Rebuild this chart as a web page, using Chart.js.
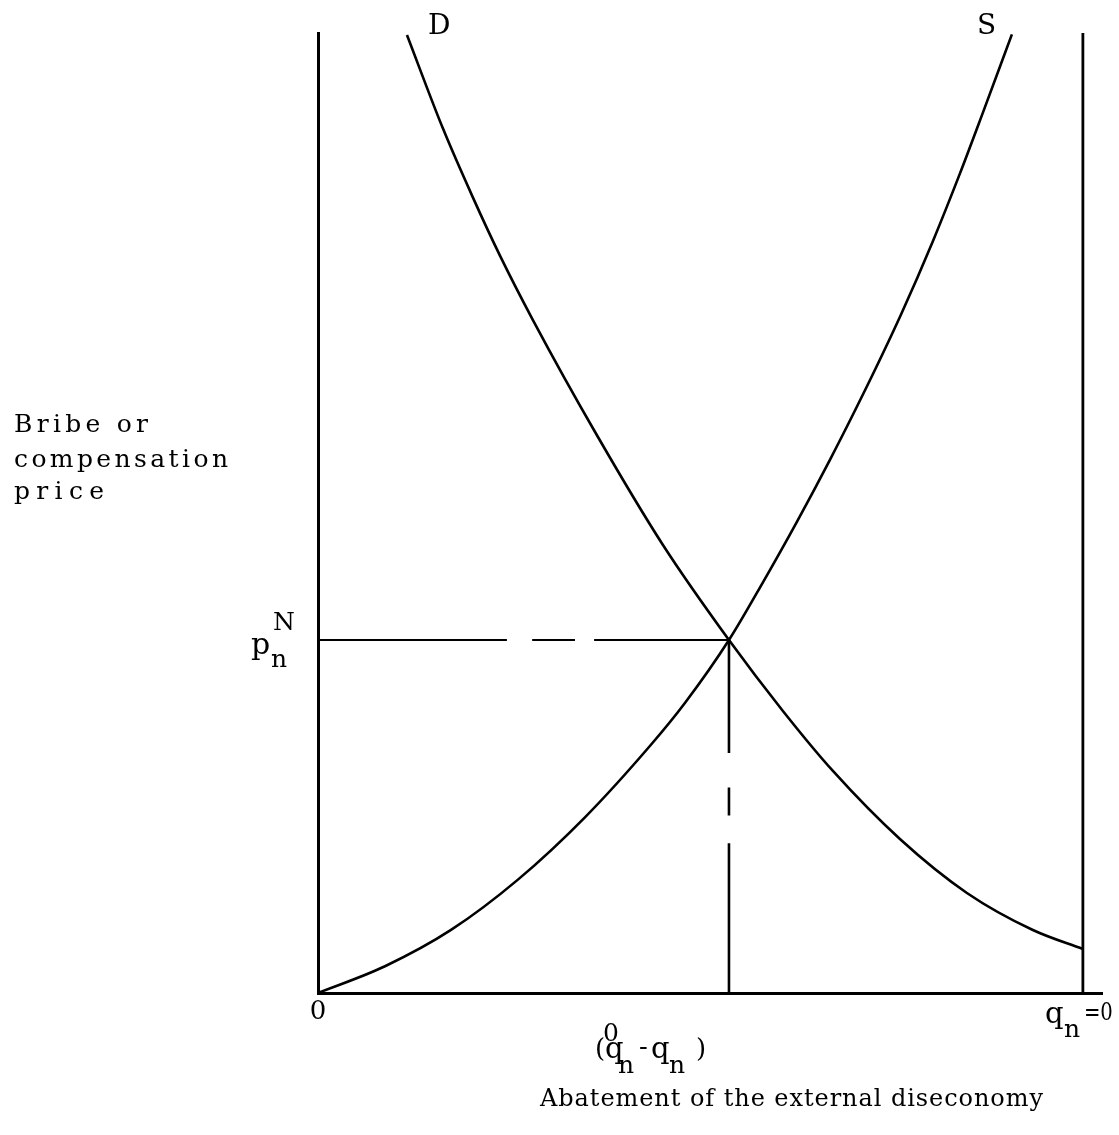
<!DOCTYPE html>
<html><head><meta charset="utf-8">
<script src="https://cdn.jsdelivr.net/npm/chart.js@4.4.0/dist/chart.umd.min.js"></script>
<style>html,body{margin:0;padding:0;background:#fff;}#wrap{width:1119px;height:1135px;}</style>
</head><body><div id="wrap"><canvas id="c" width="1119" height="1135"></canvas></div>
<script>
// ---- data (x: abatement 0..100, y: price 0..100) ----
const demandX = [11.63, 16.34, 20.26, 23.79, 28.10, 36.47, 45.10, 53.73, 60.78, 67.32, 76.08, 84.84, 93.46, 100];
const demandY = [99.79, 90.04, 82.85, 76.81, 70.10, 58.10, 46.67, 36.77, 29.38, 23.13, 16.04, 10.42, 6.56, 4.58];
const supplyX = [0, 8.76, 17.39, 26.14, 34.90, 43.53, 47.97, 53.73, 58.17, 62.61, 66.93, 71.24, 76.21, 80.39, 83.92, 86.93, 90.72];
const supplyY = [0, 2.79, 6.57, 11.81, 18.30, 25.86, 30.21, 36.77, 42.78, 49.08, 55.54, 62.34, 70.66, 78.32, 85.35, 91.71, 99.86];
const eqQuantity = 53.73;
const eqPrice = 36.77;
const priceLineSegments = [[0, 24.7], [28.0, 33.6], [36.1, 53.73]];     // x ranges at y = eqPrice
const quantityLineSegments = [[36.77, 25.0], [21.4, 18.5], [15.6, 0]]; // y ranges at x = eqQuantity
const boundaryX = 100;   // q_n = 0
const xMax = 102.5;
const yMax = 100;
const curveLabels = ['D', 'S'];
const yLabelLines = ['Bribe or', 'compensation', 'price'];
const xTitle = 'Abatement of the external diseconomy';

function toPts(xs, ys) { return xs.map((x, i) => ({x, y: ys[i]})); }
const hPts = [];
priceLineSegments.forEach((s, i) => {
  if (i) hPts.push({x: (priceLineSegments[i-1][1] + s[0]) / 2, y: null});
  hPts.push({x: s[0], y: eqPrice}, {x: s[1], y: eqPrice});
});
const vPts = [];
quantityLineSegments.forEach((s, i) => {
  if (i) vPts.push({x: eqQuantity, y: null});
  vPts.push({x: eqQuantity, y: s[0]}, {x: eqQuantity, y: s[1]});
});

const FONT = '"DejaVu Serif", "Liberation Serif", serif';
function fitText(ctx, text, x, y, target) {
  const natural = ctx.measureText(text).width;
  if (natural >= target) {
    ctx.save(); ctx.translate(x, y); ctx.scale(target / natural, 1);
    ctx.fillText(text, 0, 0); ctx.restore();
    return;
  }
  const chars = [...text];
  const w = chars.map(c => ctx.measureText(c).width);
  const total = w.reduce((a, b) => a + b, 0);
  const extra = (target - total) / (chars.length - 1);
  let cx = x;
  chars.forEach((c, i) => { ctx.fillText(c, cx, y); cx += w[i] + extra; });
}

const textPlugin = {
  id: 'texts',
  afterDraw(chart) {
    const ctx = chart.ctx, xs = chart.scales.x, ys = chart.scales.y;
    ctx.save();
    ctx.fillStyle = '#000';
    ctx.textBaseline = 'alphabetic';
    ctx.textAlign = 'left';
    const x0 = xs.getPixelForValue(0), yb = ys.getPixelForValue(0);
    // curve labels
    ctx.font = '28px ' + FONT;
    ctx.fillText(curveLabels[0], xs.getPixelForValue(demandX[0]) + 21, ys.top + 1);
    ctx.fillText(curveLabels[1], xs.getPixelForValue(supplyX[supplyX.length-1]) - 35, ys.top + 1);
    // y label
    ctx.font = '25px ' + FONT;
    const targets = [134, 214, 90];
    const bases = [432, 467, 499];
    yLabelLines.forEach((t, i) => fitText(ctx, t, 14, bases[i], targets[i]));
    // p_n^N
    const yp = ys.getPixelForValue(eqPrice);
    ctx.font = '30px ' + FONT;
    ctx.fillText('p', x0 - 67, yp + 14);
    ctx.font = '25px ' + FONT;
    ctx.fillText('N', x0 - 45, yp - 10);
    ctx.fillText('n', x0 - 47, yp + 27);
    // origin 0
    ctx.font = '26px ' + FONT;
    ctx.textAlign = 'center';
    ctx.fillText('0', x0, yb + 26);
    ctx.textAlign = 'left';
    // q_n = 0
    const xr = xs.getPixelForValue(boundaryX);
    ctx.font = '29px ' + FONT;
    ctx.fillText('q', xr - 38, yb + 30);
    ctx.font = '25px ' + FONT;
    ctx.fillText('n', xr - 19, yb + 44);
    ctx.font = '24px ' + FONT;
    fitText(ctx, '=0', xr + 1, yb + 27, 29);
    // (q_n^0 - q_n)
    const xe = xs.getPixelForValue(eqQuantity);
    ctx.font = '26px ' + FONT;
    ctx.fillText('(', xe - 134, yb + 64);
    ctx.font = '29px ' + FONT;
    ctx.fillText('q', xe - 124, yb + 65);
    ctx.font = '25px ' + FONT;
    ctx.fillText('0', xe - 126, yb + 48);
    ctx.fillText('n', xe - 111, yb + 80);
    ctx.font = '26px ' + FONT;
    ctx.fillText('-', xe - 90, yb + 62);
    ctx.font = '29px ' + FONT;
    ctx.fillText('q', xe - 78, yb + 65);
    ctx.font = '25px ' + FONT;
    ctx.fillText('n', xe - 60, yb + 80);
    ctx.font = '26px ' + FONT;
    ctx.fillText(')', xe - 33, yb + 64);
    // x title
    ctx.font = '24px ' + FONT;
    fitText(ctx, xTitle, 540, 1106, 503);
    ctx.restore();
  }
};

const lineBase = {borderColor: '#000', pointRadius: 0, fill: false, spanGaps: false};
new Chart(document.getElementById('c'), {
  type: 'line',
  data: {
    datasets: [
      Object.assign({label: 'D', data: toPts(demandX, demandY), borderWidth: 2.6, cubicInterpolationMode: 'monotone'}, lineBase),
      Object.assign({label: 'S', data: toPts(supplyX, supplyY), borderWidth: 2.6, cubicInterpolationMode: 'monotone'}, lineBase),
      Object.assign({label: 'price', data: hPts, borderWidth: 2.2}, lineBase),
      Object.assign({label: 'quantity', data: vPts, borderWidth: 2.6}, lineBase),
      Object.assign({label: 'qn0', data: [{x: boundaryX, y: 0}, {x: boundaryX, y: yMax}], borderWidth: 2.8}, lineBase)
    ]
  },
  options: {
    responsive: false,
    animation: false,
    events: [],
    layout: {padding: {left: 318, top: 33, right: 17, bottom: 142}},
    plugins: {legend: {display: false}, tooltip: {enabled: false}},
    scales: {
      x: {type: 'linear', min: 0, max: xMax,
          ticks: {display: false}, grid: {display: false, drawTicks: false},
          border: {display: true, color: '#000', width: 3},
          afterFit: s => { s.height = 0; }},
      y: {type: 'linear', min: 0, max: yMax,
          ticks: {display: false}, grid: {display: false, drawTicks: false},
          border: {display: true, color: '#000', width: 3},
          afterFit: s => { s.width = 0; }}
    }
  },
  plugins: [textPlugin]
});
</script></body></html>
